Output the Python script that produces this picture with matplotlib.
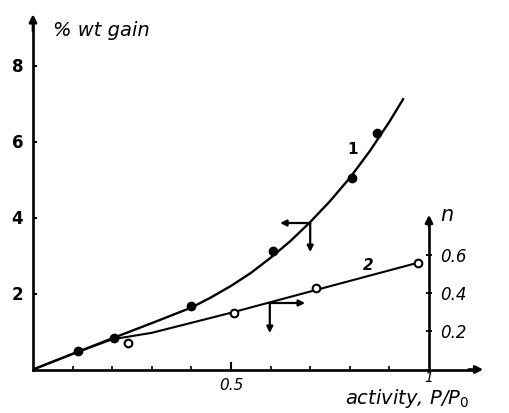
import matplotlib
matplotlib.use("Agg")
import matplotlib.pyplot as plt

# ---- data ----
# curve 1: % wt gain vs activity (left axis)
curve1_x = [0.0, 0.1, 0.2, 0.3, 0.4, 0.45, 0.5, 0.55, 0.6, 0.65, 0.7, 0.75,
            0.8, 0.85, 0.9, 0.935]
curve1_y = [0.0, 0.41, 0.82, 1.22, 1.63, 1.90, 2.20, 2.54, 2.94, 3.38, 3.88,
            4.43, 5.04, 5.74, 6.52, 7.12]
pts1_x = [0.114, 0.205, 0.40, 0.606, 0.806, 0.869]
pts1_y = [0.50, 0.84, 1.66, 3.12, 5.05, 6.22]

# curve 2: n vs activity (right axis)
curve2_x = [0.0, 0.1, 0.2, 0.3, 0.5, 0.75, 0.972]
curve2_n = [0.0, 0.082, 0.158, 0.192, 0.297, 0.436, 0.559]
pts2_x = [0.24, 0.508, 0.715, 0.972]
pts2_n = [0.138, 0.297, 0.426, 0.559]

wt_ticks = [2, 4, 6, 8]
n_ticks = [0.2, 0.4, 0.6]
n_ticklabels = ["0.2", "0.4", "0.6"]

# ---- figure ----
W, H = 510, 413
fig = plt.figure(figsize=(W / 100, H / 100), dpi=100)
left_px, bottom_px = 33, 369.5
px_x, px_wt, px_n = 396.0, 38.0, 191.0
xmax, wtmax = 1.15, 9.5
ax = fig.add_axes([left_px / W, (H - bottom_px) / H,
                   xmax * px_x / W, wtmax * px_wt / H])
ax.set_xlim(0, xmax)
ax.set_ylim(0, wtmax)
ax.patch.set_visible(False)
ax2 = ax.twinx()
ax2.set_ylim(0, wtmax * px_wt / px_n)
ax2.patch.set_visible(False)

LW = 1.9
for s in ["top", "right"]:
    ax.spines[s].set_visible(False)
ax.spines["left"].set_linewidth(LW)
ax.spines["bottom"].set_linewidth(LW)
ax.spines["left"].set_bounds(0, 9.2)
ax.spines["bottom"].set_bounds(0, 1.12)
for s in ["top", "left", "bottom"]:
    ax2.spines[s].set_visible(False)
ax2.spines["right"].set_position(("data", 1.0))
ax2.spines["right"].set_linewidth(LW)
ax2.spines["right"].set_bounds(0, 0.79)

tfont = dict(family="DejaVu Sans", style="italic")

# axis arrows
ap = dict(arrowstyle="-|>", color="black", lw=LW, mutation_scale=11,
          shrinkA=0, shrinkB=0)
ax.annotate("", xy=(0, 9.35), xytext=(0, 8.9), arrowprops=ap, annotation_clip=False)
ax.annotate("", xy=(1.137, 0), xytext=(1.1, 0), arrowprops=ap, annotation_clip=False)
ax2.annotate("", xy=(1.0, 0.81), xytext=(1.0, 0.75), arrowprops=ap, annotation_clip=False)

# ticks
ax.set_yticks(wt_ticks)
ax.set_yticklabels([str(t) for t in wt_ticks], fontsize=12, fontweight="bold")
ax.tick_params(axis="y", direction="in", length=3, width=1.5, pad=7)
ax.set_xticks([0.5])
ax.set_xticklabels(["0.5"], fontsize=11, **tfont)
ax.set_xticks([0.1, 0.2, 0.3, 0.4, 0.6, 0.7, 0.8, 0.9], minor=True)
ax.tick_params(axis="x", which="major", direction="in", length=6, width=1.5, pad=6)
ax.tick_params(axis="x", which="minor", direction="in", length=3, width=1.2)
ax2.set_yticks(n_ticks)
ax2.set_yticklabels(n_ticklabels, fontsize=12, **tfont)
ax2.tick_params(axis="y", direction="inout", length=4, width=1.3, pad=6)

# curves
ax.plot(curve1_x, curve1_y, color="black", lw=1.7, solid_capstyle="round",
        solid_joinstyle="round")
ax.plot(pts1_x, pts1_y, "o", color="black", ms=6)
ax2.plot(curve2_x, curve2_n, color="black", lw=1.5, solid_joinstyle="round")
ax2.plot(pts2_x, pts2_n, "o", mfc="white", mec="black", mew=1.5, ms=5.5)

# arrows indicating which axis
sp = dict(arrowstyle="-|>", color="black", lw=1.6, mutation_scale=9,
          shrinkA=0, shrinkB=0)
ax.annotate("", xy=(0.624, 3.855), xytext=(0.70, 3.855), arrowprops=sp)
ax.annotate("", xy=(0.70, 3.09), xytext=(0.70, 3.855), arrowprops=sp)
ax.annotate("", xy=(0.687, 1.75), xytext=(0.598, 1.75), arrowprops=sp)
ax.annotate("", xy=(0.598, 0.96), xytext=(0.598, 1.75), arrowprops=sp)

# texts
fig.text(53 / W, 1 - 30 / H, "% wt gain", fontsize=14, va="center", ha="left", **tfont)
fig.text(447 / W, 1 - 215 / H, "n", fontsize=15, va="center", ha="center", **tfont)
fig.text(429 / W, 1 - 378 / H, "1", fontsize=10, va="center", ha="center", **tfont)
fig.text(345 / W, 1 - 398 / H, "activity, P/P$_0$", fontsize=14, va="center",
         ha="left", **tfont)
fig.text(353 / W, 1 - 150 / H, "1", fontsize=11, va="center", ha="center",
         fontweight="bold")
fig.text(368 / W, 1 - 265 / H, "2", fontsize=11, va="center", ha="center",
         fontweight="bold", style="italic")

fig.savefig("out.png", dpi=100)
